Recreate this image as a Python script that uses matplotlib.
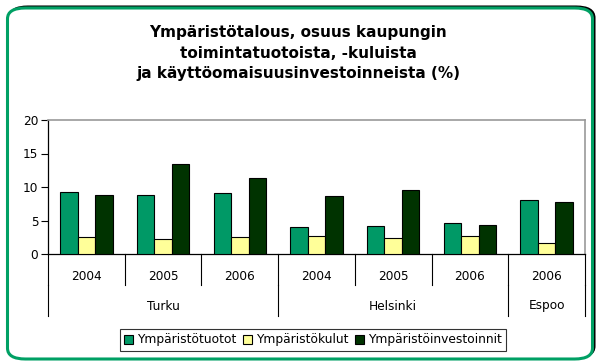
import matplotlib
matplotlib.use("Agg")
import matplotlib.pyplot as plt
import numpy as np
from matplotlib.patches import FancyBboxPatch
from matplotlib.transforms import blended_transform_factory

title = "Ympäristötalous, osuus kaupungin\ntoimintatuotoista, -kuluista\nja käyttöomaisuusinvestoinneista (%)"
years = ["2004", "2005", "2006", "2004", "2005", "2006", "2006"]
cities = ["Turku", "Helsinki", "Espoo"]
city_sizes = [3, 3, 1]
series_names = ["Ympäristötuotot", "Ympäristökulut", "Ympäristöinvestoinnit"]
tuotot = [9.3, 8.8, 9.1, 4.0, 4.2, 4.7, 8.0]
kulut = [2.6, 2.3, 2.6, 2.7, 2.4, 2.7, 1.6]
investoinnit = [8.8, 13.4, 11.4, 8.7, 9.5, 4.4, 7.7]
yticks = [0, 5, 10, 15, 20]

colors = ["#009966", "#FFFF99", "#003300"]
W, H = 597, 361
fig = plt.figure(figsize=(W / 100, H / 100), dpi=100)
fig.patch.set_facecolor("white")

# rounded frame with a dark drop shadow
shadow = FancyBboxPatch((10 / W, 4 / H), 584 / W, 350 / H,
                        boxstyle="round,pad=0,rounding_size=0.03",
                        transform=fig.transFigure, facecolor="none",
                        edgecolor="black", linewidth=2.2, zorder=0)
frame = FancyBboxPatch((7.5 / W, 2 / H), 585 / W, 351 / H,
                       boxstyle="round,pad=0,rounding_size=0.03",
                       transform=fig.transFigure, facecolor="white",
                       edgecolor="#00A064", linewidth=2.2, zorder=1)
fig.patches.extend([shadow, frame])

fig.text(298 / W, 1 - 53 / H, title, ha="center", va="center",
         fontsize=11, fontweight="bold", linespacing=1.45,
         family="DejaVu Sans")

ax = fig.add_axes([48 / W, 1 - 254 / H, 537 / W, 134 / H])
ax.set_zorder(2)
ax.patch.set_alpha(0)

n = len(years)
x = np.arange(n)
bw = 0.228
for i, (vals, c) in enumerate(zip([tuotot, kulut, investoinnit], colors)):
    ax.bar(x + (i - 1) * bw, vals, bw, color=c, edgecolor="black",
           linewidth=0.8, label=series_names[i], zorder=3)

ax.set_xlim(-0.5, n - 0.5)
ax.set_ylim(0, 20)
ax.set_yticks(yticks)
ax.set_yticklabels([str(t) for t in yticks], fontsize=8.7, family="DejaVu Sans")
ax.tick_params(axis="y", direction="out", length=5, width=0.8, pad=2)
ax.set_xticks([])
for side in ["top", "right"]:
    ax.spines[side].set_color("#999999")
    ax.spines[side].set_linewidth(1.2)
for side in ["left", "bottom"]:
    ax.spines[side].set_color("black")
    ax.spines[side].set_linewidth(0.9)

# two-level category axis: years, then cities
tr = blended_transform_factory(ax.transData, fig.transFigure)
for i, yr in enumerate(years):
    ax.text(i, 1 - 276 / H, yr, transform=tr, ha="center", va="center",
            fontsize=8.7, family="DejaVu Sans")
for b in range(n + 1):
    ax.plot([b - 0.5, b - 0.5], [1 - 254 / H, 1 - 285 / H], transform=tr,
            color="black", linewidth=0.8, clip_on=False)
start = 0
for city, size in zip(cities, city_sizes):
    ax.text(start + size / 2 - 0.5, 1 - 306 / H, city, transform=tr,
            ha="center", va="center", fontsize=8.7, family="DejaVu Sans")
    start += size
bounds = np.cumsum([0] + city_sizes)
for b in bounds:
    ax.plot([b - 0.5, b - 0.5], [1 - 285 / H, 1 - 316 / H], transform=tr,
            color="black", linewidth=0.8, clip_on=False)

leg = fig.legend(loc="center", bbox_to_anchor=(313 / W, 1 - 340 / H), ncol=3,
                 frameon=True, fancybox=False,
                 prop={"family": "DejaVu Sans", "size": 8.8},
                 handlelength=0.7, handleheight=0.7, handletextpad=0.3,
                 columnspacing=0.6, borderpad=0.35, borderaxespad=0)
leg.get_frame().set_edgecolor("black")
leg.get_frame().set_linewidth(0.8)
leg.set_zorder(5)

fig.savefig("out.png", dpi=100, facecolor="white")
